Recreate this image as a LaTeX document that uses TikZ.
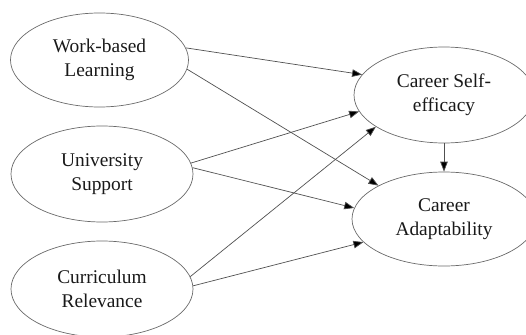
\documentclass[tikz,border=0pt]{standalone}
\usepackage{fontspec}
\setmainfont{Liberation Serif}
\usetikzlibrary{shapes.geometric,arrows.meta}
\definecolor{edgegray}{HTML}{6A6A6A}
\definecolor{linegray}{HTML}{505050}
\begin{document}
\begin{tikzpicture}[x=1pt,y=-1pt,
  var/.style={ellipse,draw=edgegray,line width=0.7pt,inner sep=0pt,
    minimum width=180pt,minimum height=95pt,align=center,
    font=\fontsize{19.4}{24}\selectfont,text=black!90},
  conn/.style={draw=linegray,line width=0.7pt,
    -{Triangle[length=10pt,width=7.5pt,fill=black]}}]
\useasboundingbox (0,0) rectangle (526,334);
\clip (0,0) rectangle (526,334);
\node[var,minimum width=178pt,minimum height=94pt] (wbl) at (99.5,60) {Work-based\\Learning};
\node[var,minimum width=182pt,minimum height=96pt] (us) at (102,174) {University\\Support};
\node[var,minimum width=182pt,minimum height=96pt] (cr) at (102,289) {Curriculum\\Relevance};
\node[var,minimum width=180pt,minimum height=96pt] (cse) at (444,95) {Career Self-\\efficacy};
\node[var,minimum width=184pt,minimum height=94pt] (ca) at (444,219) {Career\\Adaptability};
\draw[conn] (wbl.8) -- (cse.166);
\draw[conn] (wbl.-6) -- (ca.153);
\draw[conn] (us.7) -- (cse.191);
\draw[conn] (us.4) -- (ca.173);
\draw[conn] (cr.8) -- (cse.205);
\draw[conn] (cr.2.5) -- (ca.196);
\draw[conn] (cse.south) -- (ca.north);
\end{tikzpicture}
\end{document}
